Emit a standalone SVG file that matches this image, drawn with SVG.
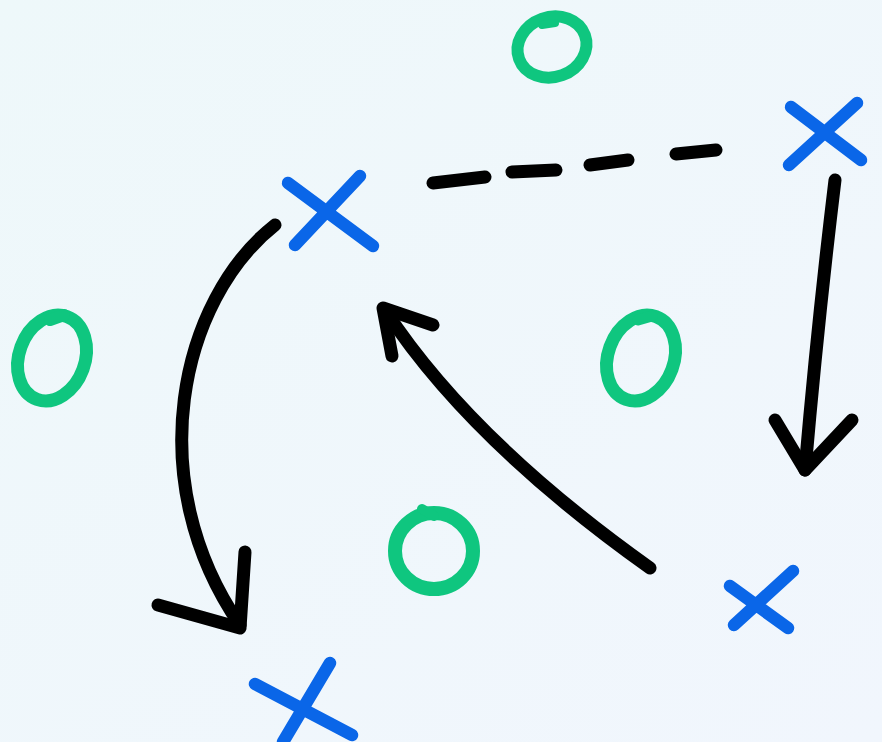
<svg xmlns="http://www.w3.org/2000/svg" width="882" height="742" viewBox="0 0 882 742">
<defs>
<linearGradient id="bg" x1="0" y1="0" x2="1" y2="1">
<stop offset="0" stop-color="#eef8fa"/>
<stop offset="1" stop-color="#f1f6fd"/>
</linearGradient>
<style>
.x{stroke:#0a66e8;stroke-width:12.5;stroke-linecap:round;fill:none}
.o{stroke:#0fc67f;fill:none;stroke-linecap:round}
.a{stroke:#000;stroke-width:13;stroke-linecap:round;stroke-linejoin:round;fill:none}
</style>
</defs>
<rect width="882" height="742" fill="url(#bg)"/>
<g id="connectors">
<path class="a" d="M275,225 C180,300 140,480 240,625"/>
<path class="a" d="M158,605 L240,628 L245,552"/>
<path class="a" d="M650,568 Q470,440 385,310"/>
<path class="a" d="M433,325 L383,308 L392,356"/>
<path class="a" d="M835,180 Q818,320 805,470"/>
<path class="a" d="M775,420 L805,470 L852,420"/>
<path class="a" d="M433,183 L485,177 M512,172 L556,170 M590,165 L628,160 M676,154 L716,150"/>
</g>
<g id="x1"><path class="x" d="M288,183 L373,246 M360,176 L295,245"/></g>
<g id="x2"><path class="x" d="M791,107 L861,160 M857,103 L789,165"/></g>
<g id="x3"><path class="x" d="M730,586 L788,628 M793,571 L734,625"/></g>
<g id="x4"><path class="x" d="M255,684 L352,735 M330,663 L283,742"/></g>
<g id="o1"><ellipse class="o" cx="552" cy="47" rx="35" ry="30" transform="rotate(-20 552 47)" stroke-width="12"/><path class="o" stroke-width="8" d="M542,25 L555,23"/></g>
<g id="o2"><ellipse class="o" cx="52" cy="358" rx="33" ry="44" transform="rotate(20 52 358)" stroke-width="13"/><path class="o" stroke-width="12" d="M50,320 L64,315"/></g>
<g id="o3"><ellipse class="o" cx="641" cy="358" rx="33" ry="44" transform="rotate(20 641 358)" stroke-width="13"/><path class="o" stroke-width="11" d="M638,320 L652,316"/></g>
<g id="o4"><ellipse class="o" cx="434" cy="551" rx="39" ry="38" stroke-width="14"/><path class="o" stroke-width="10" d="M422,509 L434,516"/></g>
</svg>
